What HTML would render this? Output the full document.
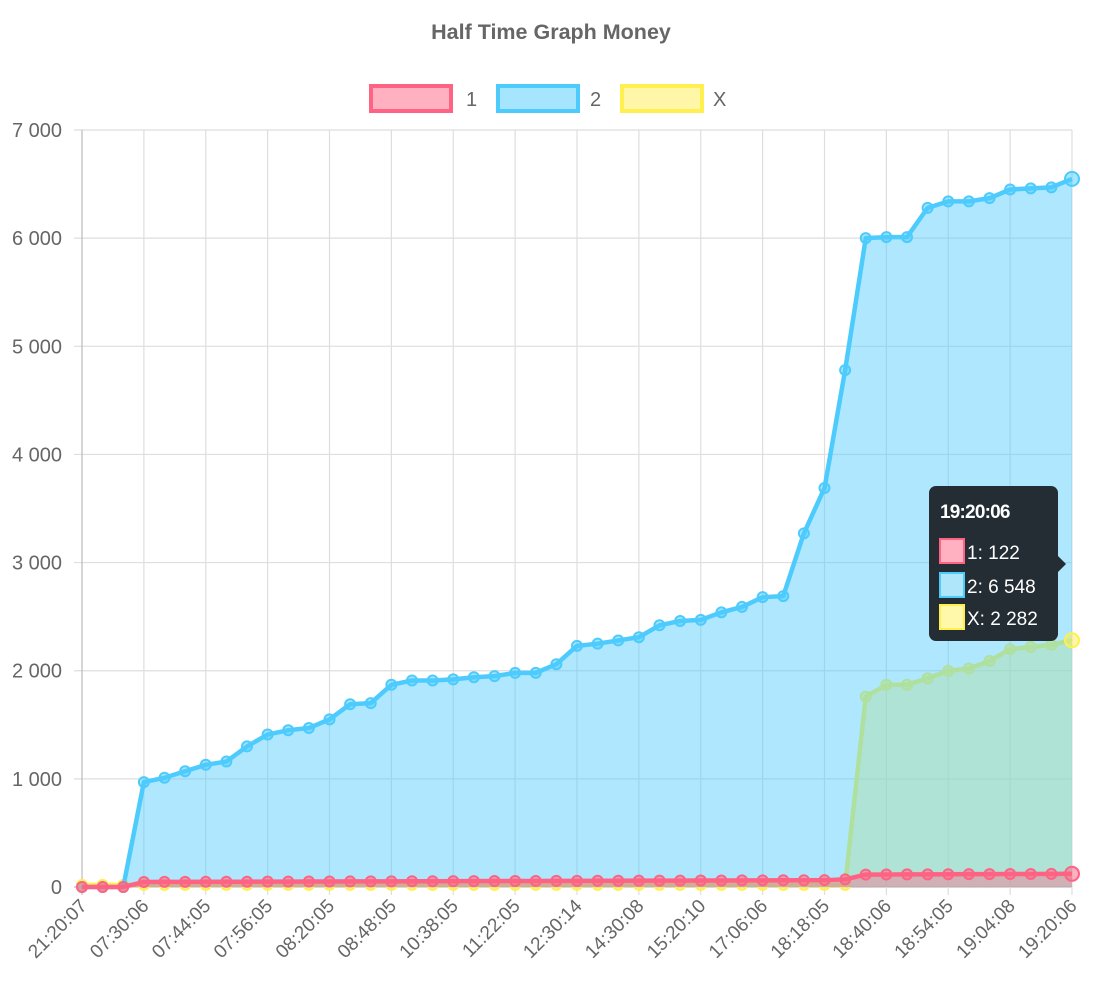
<!DOCTYPE html>
<html><head><meta charset="utf-8"><style>
html,body{margin:0;padding:0;background:#fff;}
svg{display:block;font-family:"Liberation Sans",sans-serif;}
</style></head><body>
<svg id="c" width="1096" height="996" xmlns="http://www.w3.org/2000/svg"></svg>
<script>
const svg=document.getElementById('c');
const X0=82,X1=1072,Y0=887,Ypx=108.14;
const labels=["21:20:07","07:30:06","07:44:05","07:56:05","08:20:05","08:48:05","10:38:05","11:22:05","12:30:14","14:30:08","15:20:10","17:06:06","18:18:05","18:40:06","18:54:05","19:04:08","19:20:06"];
const blue=[0,0,0,970,1010,1070,1130,1160,1300,1410,1450,1470,1550,1690,1700,1870,1910,1910,1920,1940,1950,1980,1980,2060,2230,2250,2280,2310,2420,2460,2470,2540,2590,2680,2690,3270,3690,4780,6000,6010,6010,6280,6340,6340,6370,6450,6460,6470,6548];
const yel=[];const red=[];
for(let i=0;i<49;i++){
 yel.push(i<38?20:[1760,1870,1870,1930,2000,2020,2090,2200,2220,2240,2282][i-38]);
 red.push(i<3?0:(i<37?45+i*0.5:(i==37?70:115+(i-38)*0.7)));
}
red[48]=122;
const px=i=>X0+i*(X1-X0)/48, py=v=>Y0-v*Ypx/1000;
let h='';
for(let k=0;k<=7;k++){const y=py(k*1000);h+=`<line x1="${X0-8}" x2="${X1}" y1="${y}" y2="${y}" stroke="${k==0?'#bbb':'#dedede'}" stroke-width="1.2"/>`;
 h+=`<text x="62" y="${y+7}" text-anchor="end" font-size="20" fill="#666">${k==0?'0':k+' 000'}</text>`;}
for(let k=0;k<=16;k++){const x=X0+k*(X1-X0)/16;h+=`<line x1="${x}" x2="${x}" y1="130" y2="${Y0+8}" stroke="${k==0?'#bbb':'#dedede'}" stroke-width="1.2"/>`;
 h+=`<text transform="translate(${x+6},${Y0+20}) rotate(-45)" text-anchor="end" font-size="19" fill="#666">${labels[k]}</text>`;}
function series(d,stroke,fill,pfill,skipLast){
 let pts=d.map((v,i)=>px(i)+','+py(v)).join(' ');
 let s=`<polygon points="${px(0)},${Y0} ${pts} ${px(48)},${Y0}" fill="${fill}"/>`;
 s+=`<polyline points="${pts}" fill="none" stroke="${stroke}" stroke-width="4.5" stroke-linejoin="round"/>`;
 d.forEach((v,i)=>{if(skipLast&&i==48)return;s+=`<circle cx="${px(i)}" cy="${py(v)}" r="${i==48?7:5}" fill="${pfill}" stroke="${stroke}" stroke-width="2"/>`;});
 return s;}
h+=series(yel,'rgb(255,240,80)','rgba(255,238,110,0.5)','rgba(255,240,80,0.5)',true);
h+=series(blue,'rgb(77,203,253)','rgba(77,203,253,0.45)','rgba(77,203,253,0.5)');
h+=series(red,'rgb(255,99,132)','rgba(255,99,132,0.4)','rgba(255,99,132,0.5)');
h+=`<circle cx="${px(48)}" cy="${py(2282)}" r="7" fill="rgba(255,240,80,0.5)" stroke="rgb(255,240,80)" stroke-width="2"/>`;
h+=`<text x="551" y="39" text-anchor="middle" font-size="21.5" font-weight="bold" fill="#666">Half Time Graph Money</text>`;
h+=`<rect x="371" y="86" width="80" height="25" fill="rgba(255,99,132,0.5)" stroke="rgb(255,99,132)" stroke-width="4"/><text x="466" y="106" font-size="20" fill="#666">1</text>`;
h+=`<rect x="498" y="86" width="80" height="25" fill="rgba(77,203,253,0.5)" stroke="rgb(77,203,253)" stroke-width="4"/><text x="590" y="106" font-size="20" fill="#666">2</text>`;
h+=`<rect x="622" y="86" width="80" height="25" fill="rgba(255,240,80,0.5)" stroke="rgb(255,240,80)" stroke-width="4"/><text x="713" y="106" font-size="20" fill="#666">X</text>`;
h+=`<rect x="929" y="486" width="129" height="155" rx="7" fill="#232d33"/><polygon points="1058,556 1066,564 1058,572" fill="#232d33"/>`;
h+=`<text x="940" y="518" font-size="19" font-weight="bold" fill="#fff" letter-spacing="-0.8">19:20:06</text>`;
const tt=[["rgb(255,176,193)","rgb(255,99,132)","1: 122",552],["rgb(176,230,250)","rgb(77,203,253)","2: 6 548",586],["rgb(255,247,170)","rgb(255,240,80)","X: 2 282",618]];
tt.forEach(t=>{h+=`<rect x="940" y="${t[3]-13}" width="24" height="24" fill="${t[0]}" stroke="${t[1]}" stroke-width="2"/><text x="967" y="${t[3]+7}" font-size="19" fill="#fff">${t[2]}</text>`;});
svg.innerHTML=h;
</script>
</body></html>
